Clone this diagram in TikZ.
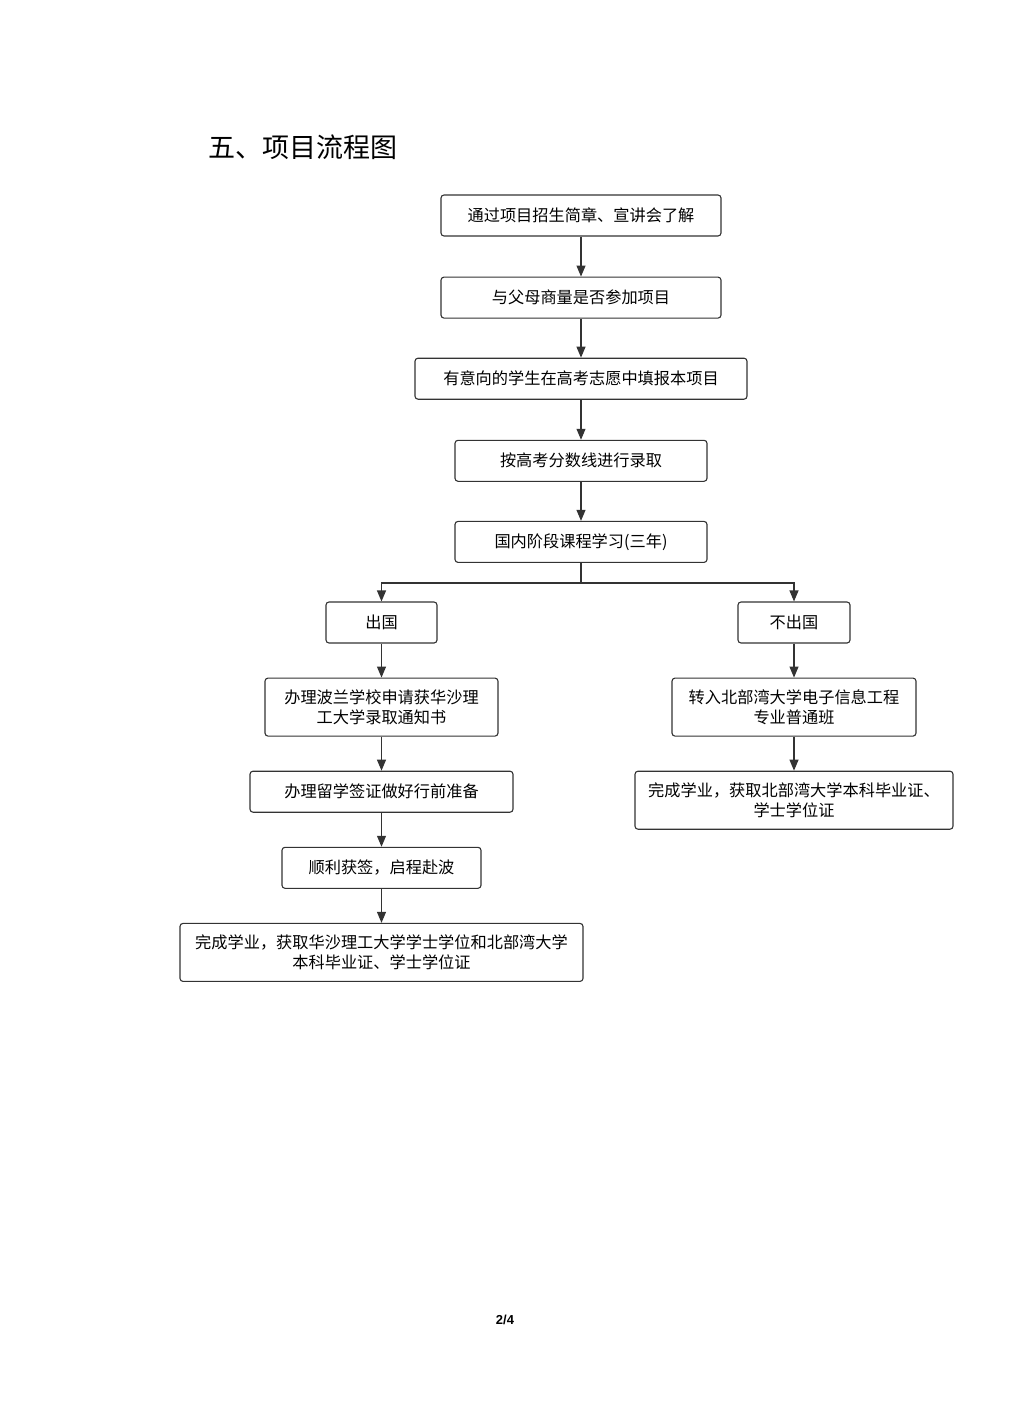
\documentclass[tikz,border=0pt]{standalone}
\usepackage{fontspec}
\setmainfont{Liberation Sans}
\newfontfamily\cjk{Noto Sans CJK SC}
\usetikzlibrary{positioning, arrows.meta}
\definecolor{linegray}{RGB}{51,51,51}

\begin{document}
\begin{tikzpicture}[
    x=1pt, y=-1pt,
    flowbox/.style={draw=linegray, line width=1.1pt, rounded corners=3pt,
      font=\cjk\fontsize{16.2}{20}\selectfont, align=center,
      minimum height=41pt, inner sep=0pt},
    flowarrow/.style={draw=linegray, line width=1.1pt,
      -{Triangle[length=11pt, width=9pt]}},
    node distance=40pt,
  ]
    \useasboundingbox (0,0) rectangle (1009,1404);
    \node[anchor=west, font=\cjk\fontsize{27}{30}\selectfont] (title) at (205,147) {五、项目流程图};

    % main chain
    \node[flowbox, minimum width=280pt] (b1) at (581,215.5) {通过项目招生简章、宣讲会了解};
    \node[flowbox, minimum width=280pt, below=40pt of b1] (b2) {与父母商量是否参加项目};
    \node[flowbox, minimum width=332pt, below=39pt of b2] (b3) {有意向的学生在高考志愿中填报本项目};
    \node[flowbox, minimum width=252pt, below=40pt of b3] (b4) {按高考分数线进行录取};
    \node[flowbox, minimum width=252pt, below=39pt of b4] (b5) {国内阶段课程学习(三年)};

    % two branches
    \node[flowbox, minimum width=111pt] (go) at (381.5,622.5) {出国};
    \node[flowbox, minimum width=112pt] (stay) at (794,622.5) {不出国};

    \node[flowbox, minimum width=233pt, minimum height=58pt, below=34pt of go] (go2) {办理波兰学校申请获华沙理\\工大学录取通知书};
    \node[flowbox, minimum width=263pt, below=34pt of go2] (go3) {办理留学签证做好行前准备};
    \node[flowbox, minimum width=199pt, below=34pt of go3] (go4) {顺利获签，启程赴波};
    \node[flowbox, minimum width=403pt, minimum height=58pt, below=34pt of go4] (go5) {完成学业，获取华沙理工大学学士学位和北部湾大学\\本科毕业证、学士学位证};

    \node[flowbox, minimum width=244pt, minimum height=58pt, below=34pt of stay] (stay2) {转入北部湾大学电子信息工程\\专业普通班};
    \node[flowbox, minimum width=318pt, minimum height=58pt, below=34pt of stay2] (stay3) {完成学业，获取北部湾大学本科毕业证、\\学士学位证};

    \draw[flowarrow] (b1) -- (b2);
    \draw[flowarrow] (b2) -- (b3);
    \draw[flowarrow] (b3) -- (b4);
    \draw[flowarrow] (b4) -- (b5);
    \draw[draw=linegray, line width=1.1pt] (b5.south) -- (581,583) coordinate (split);
    \draw[flowarrow] (split) -| (go);
    \draw[flowarrow] (split) -| (stay);
    \draw[flowarrow] (go) -- (go2);
    \draw[flowarrow] (go2) -- (go3);
    \draw[flowarrow] (go3) -- (go4);
    \draw[flowarrow] (go4) -- (go5);
    \draw[flowarrow] (stay) -- (stay2);
    \draw[flowarrow] (stay2) -- (stay3);

    \node[font=\bfseries\fontsize{13}{15}\selectfont] (page) at (505,1320) {2/4};
  \end{tikzpicture}
\end{document}
